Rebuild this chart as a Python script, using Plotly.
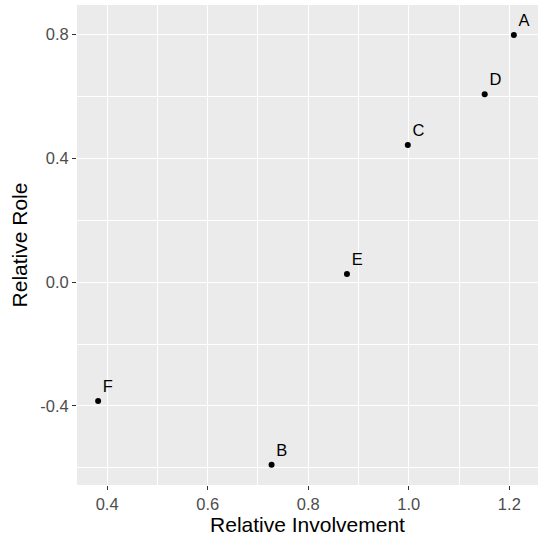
import plotly.graph_objects as go

# Data
labels = ["A", "B", "C", "D", "E", "F"]
involvement = [1.209, 0.727, 0.998, 1.151, 0.877, 0.382]
role = [0.797, -0.590, 0.442, 0.606, 0.026, -0.384]

x_ticks = [0.4, 0.6, 0.8, 1.0, 1.2]
y_ticks = [-0.4, 0.0, 0.4, 0.8]
y_ticktext = ["-0.4", "0.0", "0.4", "0.8"]

FONT = "Liberation Sans, Arial"

fig = go.Figure()
fig.add_trace(go.Scatter(
    x=involvement, y=role, text=labels,
    mode="markers+text", textposition="top right",
    marker=dict(color="black", size=6),
    textfont=dict(family=FONT, size=16.5, color="black"),
    showlegend=False, cliponaxis=False,
))

axis_common = dict(
    showgrid=True, gridcolor="white", gridwidth=1.4,
    zeroline=False, showline=False,
    ticks="outside", ticklen=4, tickwidth=1.3, tickcolor="#333333",
    tickfont=dict(family=FONT, size=16.5, color="#4D4D4D"),
    minor=dict(showgrid=True, gridcolor="white", gridwidth=0.7, ticks=""),
)

fig.update_xaxes(
    range=[0.340, 1.257], tickvals=x_ticks, ticktext=[f"{v:.1f}" for v in x_ticks],
    minor_tickvals=[0.5, 0.7, 0.9, 1.1],
    title=dict(text="Relative Involvement", font=dict(family=FONT, size=21, color="black"), standoff=4),
    **axis_common,
)
fig.update_yaxes(
    range=[-0.655, 0.894], tickvals=y_ticks, ticktext=y_ticktext,
    minor_tickvals=[-0.6, -0.2, 0.2, 0.6],
    title=dict(text="Relative Role", font=dict(family=FONT, size=21, color="black"), standoff=6),
    **axis_common,
)

fig.update_layout(
    width=546, height=550,
    margin=dict(l=77, r=8, t=5, b=65, autoexpand=False),
    paper_bgcolor="white", plot_bgcolor="#EBEBEB",
    font=dict(family=FONT),
)

fig.write_html("out.html", config={"displayModeBar": False},
               post_script="document.body.style.margin='0';")
